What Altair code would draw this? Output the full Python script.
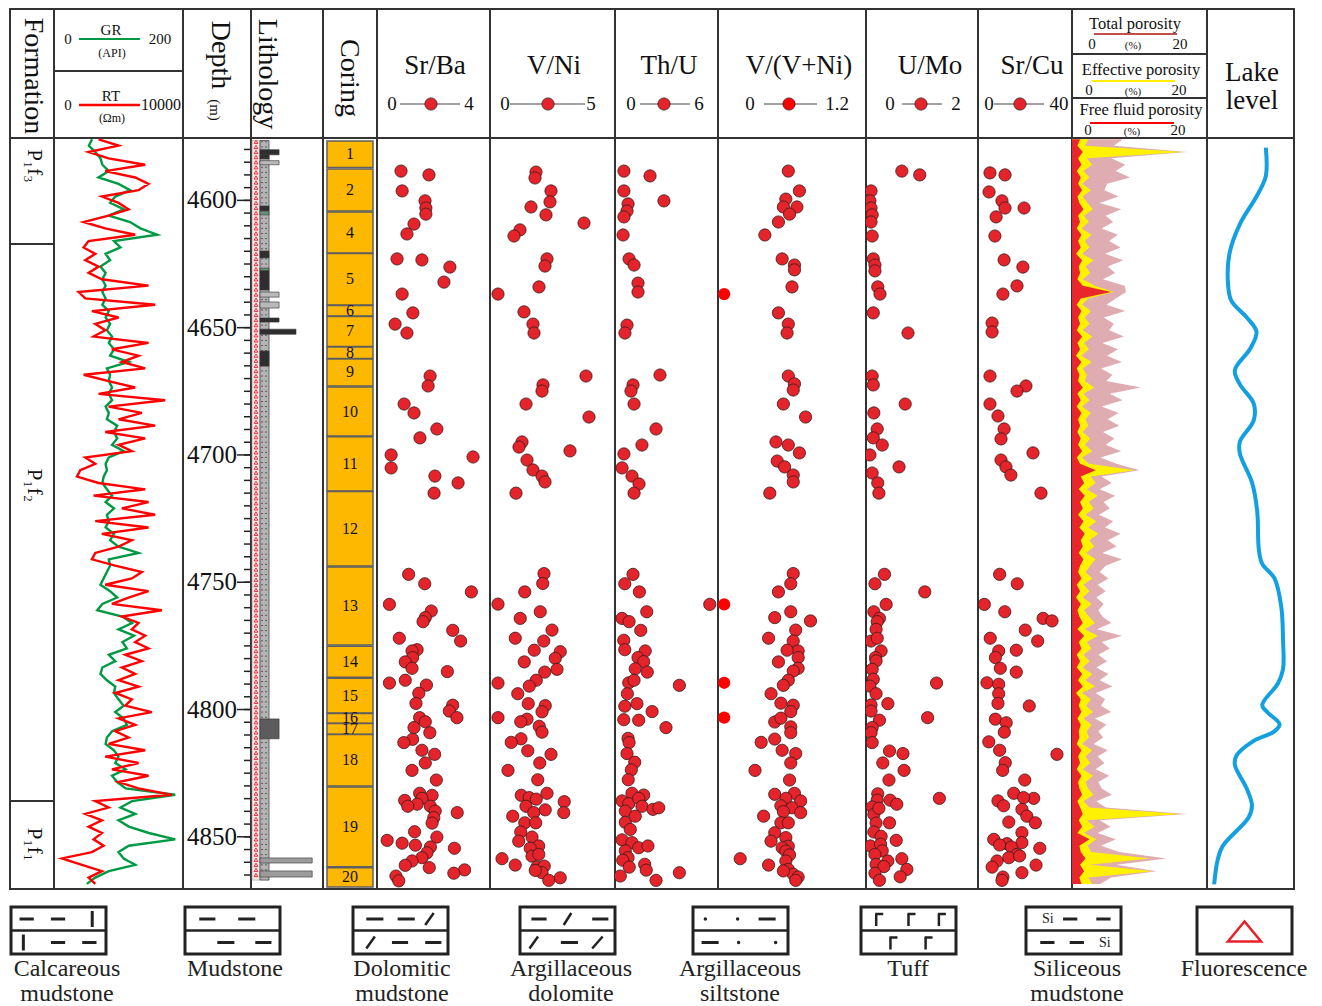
import altair as alt
import pandas as pd

SERIF = "Liberation Serif"
HEAD_H, DATA_H, LEG_H = 129, 751, 118
DEPTH_MIN, DEPTH_MAX = 4575.5, 4870.5
W = {"formation": 44, "logs": 129, "depth": 68, "litho": 72, "coring": 54,
     "srba": 113, "vni": 125, "thu": 103, "vvni": 148, "umo": 112, "srcu": 94,
     "poro": 135, "lake": 87}
PT_FILL, PT_EDGE = "#E4232A", "#3a1a1a"
ONE = pd.DataFrame({"k": [0]})

# ---------------- data ----------------
formation_names = ["P₁f₃", "P₁f₂", "P₁f₁"]
formation_bounds = [4617.1, 4835.9]
formation_label_depth = [4586.5, 4712.0, 4853.0]

log_depth = [4576 + 2.5 * i for i in range(118)]
gr = [59, 54, 64, 72, 75, 85, 69, 100, 118, 95,
      87, 108, 85, 118, 134, 160, 93, 103, 80, 87,
      72, 80, 75, 80, 75, 80, 75, 85, 80, 87,
      82, 90, 85, 93, 87, 116, 82, 87, 85, 90,
      85, 90, 80, 85, 82, 98, 93, 98, 90, 108,
      85, 80, 82, 77, 75, 82, 90, 80, 93, 82,
      85, 80, 93, 87, 100, 131, 85, 87, 82, 77,
      72, 87, 98, 75, 67, 106, 121, 100, 124, 106,
      113, 85, 95, 75, 72, 82, 95, 93, 100, 108,
      95, 108, 113, 90, 82, 80, 93, 100, 95, 111,
      90, 98, 111, 188, 121, 103, 126, 100, 116, 147,
      188, 116, 100, 108, 126, 85, 64, 51]
rt = [3457, 5005, 2683, 4231, 7069, 3973, 6295, 7327, 6553, 3715,
      5005, 5779, 4231, 2296, 3973, 6295, 2683, 2296, 3199, 2425,
      3457, 2683, 3715, 7327, 1909, 2425, 7843, 2941, 5005, 3199,
      3973, 3070, 7327, 4489, 6553, 5263, 7069, 2296, 4231, 6295,
      3457, 8617, 4231, 6811, 5005, 7843, 3973, 7069, 5005, 6037,
      2425, 3199, 2038, 1780, 3457, 7069, 3070, 7327, 5263, 7843,
      3199, 7327, 3715, 6037, 5005, 3199, 2941, 4747, 6811, 6037,
      3973, 7327, 5779, 4489, 8359, 5263, 6553, 6037, 7069, 6295,
      7327, 5521, 6811, 5263, 6295, 5005, 6553, 4747, 6037, 5521,
      7585, 5005, 6295, 4747, 5779, 4231, 7069, 3973, 6553, 4489,
      7327, 5005, 6553, 9133, 3199, 4231, 2425, 3715, 2683, 3715,
      3070, 3844, 2941, 619, 2167, 3715, 2683, 3199]

depth_ticks = list(range(4580, 4866, 5))
depth_major = [4600, 4650, 4700, 4750, 4800, 4850]

litho_top = [4580.1, 4582.1, 4584.4, 4602.2, 4604.2, 4619.9, 4626.6, 4627.7, 4636.0,
             4639.9, 4646.2, 4650.6, 4659.2, 4803.7, 4858.3, 4863.4]
litho_bottom = [4582.1, 4583.7, 4586.0, 4604.1, 4605.7, 4622.6, 4627.7, 4635.2, 4638.0,
                4642.3, 4647.8, 4652.6, 4665.1, 4811.5, 4860.3, 4865.8]
litho_kind = ["dark", "dark", "light", "dark", "green", "dark", "green", "dark", "light",
              "light", "dark", "dark", "dark", "mid", "pattern", "pattern"]
litho_extent = [0.39, 0.25, 0.39, 0.25, 0.25, 0.25, 0.25, 0.25, 0.39,
                0.39, 0.39, 0.625, 0.25, 0.39, 0.85, 0.85]
fluorescence_depth = [4577 + 2 * i for i in range(145)]

coring_no = ["1", "2", "4", "5", "6", "7", "8", "9", "10", "11", "12", "13", "14", "15",
             "16", "17", "18", "19", "20"]
coring_top = [4576.7, 4587.7, 4604.6, 4620.9, 4641.3, 4645.6, 4657.6, 4662.3, 4673.3, 4692.9,
              4714.4, 4744.0, 4775.1, 4787.7, 4801.6, 4805.5, 4809.8, 4830.4, 4862.2]
coring_bottom = [4587.1, 4604.2, 4620.7, 4641.1, 4645.4, 4657.4, 4662.1, 4672.9, 4692.6, 4714.2,
                 4743.6, 4774.7, 4787.3, 4801.4, 4805.4, 4809.7, 4830.0, 4861.8, 4869.7]

srba_depth = [4588.5, 4590.0, 4596.3, 4600.2, 4603.0, 4605.4, 4609.3, 4613.2, 4623.0, 4623.4,
              4626.2, 4632.1, 4636.8, 4644.2, 4648.6, 4652.1, 4669.0, 4672.9, 4680.0, 4683.5,
              4689.8, 4693.3, 4700.0, 4700.8, 4705.1, 4708.3, 4711.0, 4715.0,
              4746.9, 4750.6, 4753.8, 4758.7, 4761.3, 4763.9, 4765.5, 4768.9, 4772.0, 4773.1,
              4776.5, 4777.0, 4779.6, 4781.3, 4783.8, 4785.1, 4788.5, 4789.6, 4790.4, 4793.6,
              4797.6, 4798.3, 4800.6, 4803.2, 4803.2, 4804.8, 4807.1, 4809.1, 4811.7, 4813.0,
              4816.0, 4817.6, 4821.0, 4823.9, 4827.7, 4832.9, 4833.7, 4834.9, 4835.7, 4837.2,
              4838.0, 4838.0, 4839.9, 4840.5, 4842.5, 4844.6, 4848.0, 4850.1, 4851.4, 4852.5,
              4853.3, 4854.0, 4854.5, 4856.3, 4858.2, 4859.5, 4861.2, 4862.1, 4863.0, 4864.3,
              4865.4, 4867.3]
srba_value = [0.85, 1.84, 0.89, 1.70, 1.73, 1.73, 1.31, 1.06, 0.71, 1.59,
              2.58, 2.37, 0.89, 1.27, 0.64, 1.06, 1.88, 1.81, 0.96, 1.31,
              2.12, 1.52, 0.50, 3.40, 0.50, 2.05, 2.87, 2.02,
              1.12, 1.69, 3.34, 0.44, 1.92, 1.71, 1.63, 2.68, 0.79, 2.96,
              1.42, 1.24, 1.26, 1.00, 1.24, 2.49, 1.00, 0.44, 1.75, 1.48,
              1.38, 2.68, 2.56, 2.83, 1.51, 1.71, 1.31, 1.87, 1.26, 0.95,
              1.59, 2.04, 1.71, 1.24, 2.10, 1.51, 1.95, 1.59, 0.98, 1.42,
              1.09, 1.89, 2.06, 2.84, 2.01, 1.95, 1.33, 2.12, 0.36, 0.89,
              1.36, 1.89, 2.74, 1.77, 1.59, 1.24, 1.00, 1.85, 3.10, 2.72,
              0.67, 0.77]

vni_depth = [4588.9, 4591.2, 4596.3, 4602.6, 4600.6, 4605.7, 4608.9, 4611.6, 4614.0, 4623.0,
             4625.8, 4634.0, 4636.8, 4643.8, 4648.6, 4652.1, 4669.0, 4672.5, 4674.9, 4680.0,
             4685.1, 4694.9, 4698.4, 4696.9, 4702.0, 4705.9, 4708.3, 4710.6, 4715.0,
             4746.6, 4750.5, 4753.8, 4758.6, 4761.6, 4764.2, 4768.8, 4772.0, 4773.1, 4776.7,
             4777.3, 4779.9, 4781.3, 4785.3, 4784.2, 4788.5, 4790.8, 4789.6, 4793.8, 4797.7,
             4798.5, 4800.9, 4803.2, 4803.8, 4804.8, 4806.6, 4808.9, 4811.5, 4812.9, 4816.2,
             4817.6, 4821.0, 4823.9, 4827.6, 4833.7, 4834.6, 4835.2, 4832.9, 4836.2, 4838.0,
             4839.4, 4840.5, 4840.5, 4841.9, 4844.5, 4844.5, 4848.1, 4851.7, 4850.1, 4853.6,
             4854.5, 4858.6, 4857.6, 4856.9, 4861.1, 4861.9, 4861.5, 4864.1, 4866.1, 4867.1,
             4863.2]
vni_value = [1.84, 1.80, 2.44, 1.64, 2.40, 2.24, 3.76, 1.20, 0.96, 2.28,
             2.20, 1.96, 0.32, 1.36, 1.72, 1.76, 3.84, 2.12, 2.08, 1.44,
             3.96, 1.28, 3.20, 1.16, 1.48, 1.72, 2.08, 2.20, 1.04,
             2.16, 2.11, 1.39, 0.32, 2.01, 1.21, 2.48, 1.01, 2.15, 1.77,
             2.81, 2.61, 1.37, 2.19, 2.68, 1.85, 1.57, 0.32, 1.11, 1.53,
             2.21, 2.08, 0.32, 1.48, 1.23, 1.97, 2.08, 1.24, 0.85, 1.51,
             2.44, 1.99, 0.72, 1.91, 1.25, 1.57, 1.85, 2.28, 2.97, 1.44,
             2.21, 2.95, 1.75, 0.91, 1.39, 1.83, 1.23, 1.15, 1.68, 1.95,
             1.61, 0.48, 1.68, 1.95, 1.01, 1.88, 2.17, 2.08, 2.81, 2.35,
             1.81]

thu_depth = [4588.5, 4590.4, 4596.3, 4600.2, 4601.4, 4604.2, 4606.5, 4613.6, 4623.0, 4625.4,
             4632.5, 4636.0, 4649.0, 4652.1, 4668.6, 4672.5, 4674.9, 4680.0, 4689.8, 4696.1,
             4699.6, 4705.1, 4708.3, 4711.4, 4715.0,
             4746.9, 4750.6, 4753.8, 4758.7, 4761.6, 4764.2, 4765.5, 4768.9, 4772.8, 4776.5,
             4777.0, 4779.6, 4781.2, 4784.0, 4785.3, 4789.5, 4788.5, 4790.5, 4793.8, 4798.7,
             4797.7, 4800.8, 4804.0, 4804.2, 4807.1, 4811.3, 4813.0, 4817.3, 4820.7, 4823.7,
             4827.6, 4832.9, 4833.6, 4835.9, 4837.0, 4834.9, 4838.0, 4839.2, 4838.6, 4839.9,
             4844.3, 4847.1, 4841.9, 4851.2, 4852.3, 4854.3, 4853.6, 4855.5, 4858.2, 4859.2,
             4861.9, 4860.8, 4863.1, 4864.1, 4865.4, 4867.1]
thu_value = [0.52, 2.04, 0.52, 2.85, 0.76, 0.70, 0.52, 0.47, 0.82, 1.11,
             1.34, 1.34, 0.70, 0.58, 2.62, 1.05, 0.93, 1.11, 2.39, 1.57,
             0.52, 0.41, 0.99, 1.40, 1.11,
             1.05, 0.57, 1.42, 5.52, 1.85, 0.41, 0.82, 1.50, 0.51, 0.57,
             1.76, 1.34, 1.67, 1.18, 1.88, 0.80, 1.11, 3.75, 0.72, 0.57,
             1.28, 2.16, 0.51, 1.38, 2.97, 0.76, 0.82, 0.70, 1.15, 0.95,
             0.77, 0.99, 1.67, 0.41, 0.80, 1.38, 1.57, 2.21, 2.55, 0.60,
             0.60, 0.89, 1.18, 0.41, 0.99, 1.38, 1.92, 0.60, 0.76, 0.45,
             0.83, 1.73, 1.82, 3.75, 0.31, 2.39]

vvni_depth = [4588.5, 4596.3, 4599.5, 4602.6, 4602.6, 4605.4, 4608.5, 4613.6, 4623.0, 4625.4,
              4627.3, 4634.0, 4644.2, 4648.6, 4652.1, 4669.0, 4672.1, 4674.5, 4680.0, 4685.1,
              4694.9, 4696.1, 4699.2, 4702.4, 4704.7, 4707.9, 4710.6, 4715.0,
              4746.6, 4750.6, 4753.8, 4763.9, 4761.6, 4765.2, 4768.8, 4772.0, 4773.1, 4777.0,
              4776.7, 4779.6, 4781.3, 4783.8, 4784.9, 4788.5, 4790.5, 4793.8, 4797.5, 4798.3,
              4800.8, 4804.9, 4803.4, 4806.8, 4809.1, 4811.6, 4812.9, 4816.0, 4817.3, 4821.0,
              4823.9, 4827.7, 4833.3, 4832.9, 4834.9, 4835.9, 4837.8, 4838.6, 4841.9, 4840.1,
              4840.5, 4844.5, 4844.5, 4848.4, 4851.7, 4850.3, 4853.7, 4854.3, 4855.6, 4857.1,
              4858.6, 4861.1, 4859.5, 4862.8, 4864.7, 4865.8, 4867.1, 4863.4]
vvni_value = [0.57, 0.66, 0.55, 0.53, 0.64, 0.58, 0.49, 0.38, 0.52, 0.62,
              0.62, 0.60, 0.49, 0.57, 0.56, 0.57, 0.62, 0.61, 0.53, 0.71,
              0.47, 0.57, 0.66, 0.48, 0.54, 0.61, 0.61, 0.42,
              0.61, 0.59, 0.49, 0.46, 0.59, 0.75, 0.63, 0.41, 0.61, 0.65,
              0.56, 0.65, 0.49, 0.65, 0.61, 0.57, 0.53, 0.43, 0.51, 0.61,
              0.59, 0.46, 0.51, 0.59, 0.59, 0.46, 0.35, 0.52, 0.63, 0.59,
              0.30, 0.58, 0.46, 0.62, 0.55, 0.67, 0.51, 0.60, 0.37, 0.53,
              0.67, 0.51, 0.57, 0.46, 0.43, 0.55, 0.57, 0.52, 0.55, 0.58,
              0.18, 0.41, 0.55, 0.57, 0.61, 0.65, 0.63, 0.53]
vvni_edge_depth = [4636.8, 4758.7, 4789.5, 4803.2]
vvni_edge_value = [0.05, 0.05, 0.05, 0.05]

umo_depth = [4588.5, 4590.0, 4596.3, 4600.2, 4603.0, 4605.7, 4608.5, 4614.0, 4623.0, 4625.4,
             4627.7, 4634.0, 4636.8, 4644.2, 4652.1, 4669.0, 4672.5, 4680.0, 4683.5, 4689.8,
             4693.3, 4696.1, 4700.0, 4704.7, 4707.1, 4711.0, 4715.0,
             4746.9, 4750.6, 4753.8, 4758.7, 4761.6, 4764.2, 4765.5, 4768.5, 4773.1, 4772.0,
             4777.0, 4779.6, 4780.9, 4784.2, 4788.1, 4790.8, 4793.8, 4789.6, 4797.7, 4798.2,
             4800.6, 4804.2, 4803.2, 4807.1, 4809.1, 4813.0, 4816.3, 4817.3, 4821.0, 4823.9,
             4827.7, 4833.1, 4835.6, 4835.6, 4837.2, 4838.3, 4841.2, 4844.6, 4844.5, 4834.9,
             4838.8, 4848.1, 4849.8, 4851.4, 4853.6, 4852.9, 4855.5, 4856.9, 4858.6, 4859.5,
             4860.8, 4861.7, 4862.8, 4864.3, 4865.7, 4867.1]
umo_value = [0.64, 0.96, 0.09, 0.07, 0.09, 0.11, 0.09, 0.11, 0.13, 0.16,
             0.16, 0.21, 0.25, 0.13, 0.75, 0.11, 0.13, 0.70, 0.14, 0.20,
             0.13, 0.29, 0.07, 0.59, 0.11, 0.21, 0.23,
             0.33, 0.16, 1.05, 0.36, 0.14, 0.24, 0.20, 0.18, 0.09, 0.20,
             0.27, 0.17, 0.18, 0.11, 0.13, 0.07, 0.18, 1.26, 0.39, 0.09,
             0.09, 0.24, 1.10, 0.11, 0.09, 0.11, 0.42, 0.66, 0.30, 0.68,
             0.41, 0.21, 0.20, 0.43, 0.55, 0.11, 0.14, 0.18, 0.42, 1.31,
             0.23, 0.14, 0.27, 0.54, 0.08, 0.26, 0.29, 0.16, 0.64, 0.39,
             0.18, 0.32, 0.73, 0.16, 0.61, 0.24]

srcu_depth = [4589.2, 4590.0, 4596.7, 4600.2, 4603.0, 4603.0, 4606.5, 4614.0, 4623.4, 4626.2,
              4633.6, 4636.8, 4648.2, 4651.7, 4669.0, 4672.9, 4674.9, 4680.0, 4684.7, 4689.8,
              4693.7, 4699.2, 4702.0, 4704.7, 4707.9, 4715.0,
              4746.9, 4750.6, 4758.7, 4761.6, 4764.2, 4765.2, 4768.8, 4772.0, 4773.1, 4777.0,
              4776.7, 4779.6, 4783.8, 4785.3, 4789.5, 4790.1, 4793.8, 4797.6, 4798.6, 4803.8,
              4805.2, 4808.9, 4812.7, 4817.6, 4816.0, 4820.9, 4823.9, 4827.7, 4832.9, 4835.9,
              4837.8, 4834.9, 4834.6, 4839.2, 4844.2, 4841.9, 4844.5, 4848.4, 4851.0, 4852.7,
              4852.3, 4853.2, 4854.0, 4854.5, 4856.9, 4858.2, 4857.5, 4859.5, 4861.9, 4861.1,
              4864.1, 4865.8, 4867.1]
srcu_value = [5.1, 11.5, 4.7, 10.2, 11.5, 19.6, 7.7, 7.2, 11.1, 19.1,
              16.6, 10.6, 6.0, 6.0, 5.1, 20.4, 16.6, 5.1, 8.5, 11.1,
              9.8, 23.4, 9.8, 11.9, 14.0, 26.8,
              9.2, 16.7, 2.7, 11.4, 27.7, 31.5, 20.1, 5.2, 25.4, 8.8,
              16.3, 7.4, 9.5, 16.3, 3.8, 8.8, 8.8, 8.5, 21.8, 7.4,
              12.0, 11.2, 4.6, 33.6, 9.2, 11.6, 10.5, 19.9, 15.2, 8.5,
              10.9, 23.7, 19.4, 18.7, 13.1, 20.8, 24.4, 18.7, 6.7, 12.3,
              18.7, 9.2, 14.2, 26.3, 16.6, 13.1, 17.7, 8.1, 6.0, 24.7,
              18.7, 10.6, 10.2]

total_porosity = [7.5, 6.2, 17.0, 5.8, 7.9, 6.5, 8.6, 5.2,
                  4.8, 6.9, 4.1, 7.3, 5.0, 6.1, 4.4, 6.8,
                  5.5, 7.2, 4.9, 7.6, 5.3, 6.4, 4.6,
                  7.8, 8.0, 6.5, 5.1, 7.9, 4.7, 6.2, 5.5,
                  7.7, 4.5, 6.8, 5.2, 7.4, 4.3, 6.0,
                  5.1, 10.2, 5.6, 7.5, 4.4, 6.9, 5.3, 7.0,
                  4.6, 6.3, 5.0, 7.3, 4.2, 6.6, 10.0,
                  4.4, 5.9, 4.1, 6.4, 4.7, 5.6, 4.0, 6.1,
                  4.9, 7.2, 5.3, 6.6, 4.5, 7.4, 5.0,
                  4.1, 5.4, 3.8, 5.0, 3.6, 4.7, 3.9, 4.5,
                  5.8, 3.7, 7.4, 4.4, 5.6, 3.9, 5.2,
                  3.6, 5.4, 4.1, 6.0, 3.5, 4.9, 4.3, 5.8,
                  3.4, 5.1, 3.9, 4.6, 3.2, 5.3, 3.8,
                  4.8, 3.5, 5.5, 3.9, 4.4, 5.9, 3.6, 5.0,
                  17.0, 4.1, 5.7, 3.8, 6.5, 4.3, 7.0,
                  14.0, 6.6, 12.5, 5.8, 4.2]
effective_porosity = [2.4, 1.9, 16.5, 2.2, 3.0, 1.7, 2.6, 1.5,
                      2.8, 1.6, 2.3, 3.1, 1.8, 2.5, 1.4, 2.9,
                      1.9, 2.6, 1.5, 3.2, 2.0, 2.7, 1.6,
                      3.4, 6.2, 2.4, 1.5, 2.8, 1.9, 2.6, 1.6,
                      3.0, 1.8, 2.5, 1.4, 2.9, 1.6, 2.2,
                      1.9, 3.3, 1.7, 2.6, 1.5, 2.8, 2.0, 2.4,
                      1.6, 2.7, 1.9, 3.0, 1.5, 2.5, 9.2,
                      2.8, 3.5, 2.2, 3.8, 2.5, 3.2, 2.0, 3.6,
                      2.4, 3.9, 2.6, 3.3, 2.1, 3.5, 2.7,
                      2.0, 3.0, 1.7, 2.6, 1.6, 2.9, 1.8, 2.5,
                      3.4, 1.9, 3.8, 2.2, 2.9, 1.7, 2.6,
                      1.6, 3.0, 2.0, 3.4, 1.5, 2.8, 2.1, 3.1,
                      1.7, 2.9, 2.2, 2.5, 1.5, 3.0, 2.0,
                      2.7, 1.6, 3.1, 2.0, 2.4, 3.2, 1.7, 2.6,
                      16.0, 2.2, 3.3, 1.8, 3.6, 2.3, 2.9,
                      11.5, 2.6, 12.0, 2.4, 3.0]
free_fluid_porosity = [1.2, 0.8, 1.6, 0.9, 1.4, 0.7, 1.3, 0.9,
                       1.5, 0.8, 1.1, 1.7, 0.9, 1.2, 0.7, 1.4,
                       0.9, 1.3, 0.6, 1.5, 1.0, 1.2, 0.8,
                       1.6, 5.8, 1.3, 0.7, 1.4, 0.9, 1.2, 0.7,
                       1.5, 0.8, 1.2, 0.6, 1.4, 0.7, 1.1,
                       0.9, 1.6, 0.8, 1.3, 0.7, 1.4, 0.9, 1.2,
                       0.8, 1.3, 0.9, 1.5, 0.7, 1.2, 3.5,
                       1.3, 1.8, 1.0, 1.9, 1.2, 1.6, 0.9, 1.7,
                       1.1, 1.9, 1.3, 1.6, 1.0, 1.7, 1.2,
                       0.9, 1.4, 0.7, 1.2, 0.6, 1.3, 0.8, 1.1,
                       1.6, 0.8, 1.8, 1.0, 1.4, 0.7, 1.2,
                       0.7, 1.5, 0.9, 1.6, 0.6, 1.3, 1.0, 1.4,
                       0.8, 1.3, 1.0, 1.1, 0.7, 1.4, 0.9,
                       1.2, 0.7, 1.4, 0.9, 1.1, 1.5, 0.8, 1.2,
                       1.6, 1.0, 1.5, 0.8, 2.6, 1.1, 1.3,
                       2.0, 1.2, 1.8, 1.1, 1.4]

lake_depth = [4579.3, 4590.5, 4598.0, 4609.3, 4620.6, 4631.9, 4639.4, 4646.0, 4651.6, 4658.2,
              4666.7, 4672.3, 4679.8, 4686.4, 4694.8, 4699.5, 4710.8, 4722.1, 4737.1, 4742.8,
              4748.4, 4759.7, 4772.8, 4784.1, 4789.8, 4798.2, 4801.1, 4805.8, 4808.6, 4812.3,
              4818.1, 4821.7, 4831.1, 4837.7, 4842.4, 4853.6, 4859.3, 4868.7]
lake_level = [0.676, 0.676, 0.577, 0.378, 0.260, 0.240, 0.279, 0.457, 0.569, 0.498,
              0.320, 0.378, 0.537, 0.537, 0.378, 0.378, 0.517, 0.577, 0.596, 0.635,
              0.775, 0.854, 0.874, 0.874, 0.815, 0.635, 0.695, 0.834, 0.775, 0.537,
              0.339, 0.320, 0.457, 0.517, 0.478, 0.181, 0.121, 0.082]

legend_line1 = ["Calcareous", "Mudstone", "Dolomitic", "Argillaceous", "Argillaceous",
                "Tuff", "Siliceous", "Fluorescence"]
legend_line2 = ["mudstone", "", "mudstone", "dolomite", "siltstone", "", "mudstone", ""]


# ---------------- helpers ----------------
def ysc():
    return alt.Scale(domain=[DEPTH_MIN, DEPTH_MAX], reverse=True, nice=False, zero=False)


def Yd(field="depth"):
    return alt.Y(f"{field}:Q", scale=ysc(), axis=None)


def T(text, x, y, size, angle=0, color="#111111", align="center", baseline="middle"):
    return alt.Chart(ONE).mark_text(text=text, font=SERIF, fontSize=size, angle=angle,
                                    color=color, align=align, baseline=baseline).encode(
        x=alt.value(x), y=alt.value(y))


def R(x1, y1, x2, y2, color="#333333", w=1.0):
    return alt.Chart(ONE).mark_rule(color=color, strokeWidth=w).encode(
        x=alt.value(x1), y=alt.value(y1), x2=alt.value(x2), y2=alt.value(y2))


def DOT(x, y, fill, stroke):
    return alt.Chart(ONE).mark_point(shape="circle", filled=True, size=150, fill=fill,
                                     stroke=stroke, strokeWidth=0.8, opacity=1).encode(
        x=alt.value(x), y=alt.value(y))


def panel(layers, w, h):
    return alt.layer(*layers).properties(width=w, height=h)


# ---------------- header row ----------------
def head_ratio(title, w, tx, zx, l1, l2, cx, mx, mlabel, fill=PT_FILL):
    return panel([T(title, tx, 57, 27), T("0", zx, 95, 19), R(l1, 95, l2, 95, "#444444", 1),
                  DOT(cx, 95, fill, PT_EDGE), T(mlabel, mx, 95, 19)], w, HEAD_H)


h_form = panel([T("Formation", 23, 67, 28, angle=90)], W["formation"], HEAD_H)
h_logs = panel([
    R(0, 62, 129, 62, "#333333", 2),
    T("GR", 57, 21, 15), R(25, 30, 86, 30, "#009944", 2), T("0", 14, 30, 15),
    T("200", 106, 30, 15), T("(API)", 58, 44, 12),
    T("RT", 57, 87, 15), R(25, 96, 86, 96, "#FF0000", 2.5), T("0", 14, 96, 15),
    T("10000", 107, 96, 16), T("(Ωm)", 58, 109, 12),
], W["logs"], HEAD_H)
h_depth = panel([T("Depth", 37, 46, 28, angle=90), T("(m)", 32, 101, 15, angle=90)],
                W["depth"], HEAD_H)
h_litho = panel([T("Lithology", 16, 65, 28, angle=90)], W["litho"], HEAD_H)
h_coring = panel([T("Coring", 26, 69, 28, angle=90)], W["coring"], HEAD_H)
h_srba = head_ratio("Sr/Ba", W["srba"], 58, 15, 23, 83, 54, 92, "4")
h_vni = head_ratio("V/Ni", W["vni"], 64, 15, 20, 95, 58, 101, "5")
h_thu = head_ratio("Th/U", W["thu"], 54, 16, 25, 75, 49, 84, "6")
h_vvni = head_ratio("V/(V+Ni)", W["vvni"], 81, 32, 46, 99, 71, 119, "1.2", fill="#FF0000")
h_umo = head_ratio("U/Mo", W["umo"], 64, 24, 36, 76, 55, 90, "2")
h_srcu = head_ratio("Sr/Cu", W["srcu"], 54, 11, 16, 66, 42, 81, "40")
h_poro = panel([
    R(0, 45, 135, 45, "#333333", 2), R(0, 89, 135, 89, "#333333", 2),
    T("Total porosity", 63, 15, 16.5), R(22, 25, 105, 25, "#C0504D", 2),
    T("0", 20, 35, 15), T("(%)", 61, 37, 11), T("20", 108, 35, 15),
    T("Effective porosity", 69, 61, 16.5), R(20, 72, 103, 72, "#FFEE00", 2),
    T("0", 17, 81, 15), T("(%)", 61, 83, 11), T("20", 107, 81, 15),
    T("Free fluid porosity", 69, 101, 16.5), R(18, 114, 102, 114, "#FF0000", 2),
    T("0", 16, 121, 15), T("(%)", 60, 123, 11), T("20", 106, 121, 15),
], W["poro"], HEAD_H)
h_lake = panel([T("Lake", 45, 64, 27), T("level", 45, 92, 27)], W["lake"], HEAD_H)

heads = [h_form, h_logs, h_depth, h_litho, h_coring, h_srba, h_vni, h_thu,
         h_vvni, h_umo, h_srcu, h_poro, h_lake]

# ---------------- data row ----------------
form_df = pd.DataFrame({"name": formation_names, "label_depth": formation_label_depth})
bound_df = pd.DataFrame({"depth": formation_bounds})
d_form = panel([
    alt.Chart(bound_df).mark_rule(color="#333333", strokeWidth=2).encode(
        y=Yd(), x=alt.value(0), x2=alt.value(W["formation"])),
    alt.Chart(form_df).mark_text(font=SERIF, fontSize=21, angle=90, color="#111111").encode(
        y=Yd("label_depth"), x=alt.value(24), text="name:N"),
], W["formation"], DATA_H)

log_df = pd.DataFrame({"depth": log_depth, "GR": gr, "RT": rt})
gr_line = alt.Chart(log_df).mark_line(color="#009944", strokeWidth=2.4).encode(
    x=alt.X("GR:Q", scale=alt.Scale(domain=[0, 200], nice=False), axis=None),
    y=Yd(), order="depth:Q")
rt_line = alt.Chart(log_df).mark_line(color="#FF0000", strokeWidth=2.4).encode(
    x=alt.X("RT:Q", scale=alt.Scale(domain=[0, 10000], nice=False), axis=None),
    y=Yd(), order="depth:Q")
d_logs = alt.layer(gr_line, rt_line).resolve_scale(x="independent").properties(
    width=W["logs"], height=DATA_H)

tick_df = pd.DataFrame({"depth": depth_ticks})
major_df = pd.DataFrame({"depth": depth_major, "label": [str(d) for d in depth_major]})
d_depth = panel([
    alt.Chart(tick_df).mark_rule(color="#222222", strokeWidth=1.5).encode(
        y=Yd(), x=alt.value(61), x2=alt.value(68)),
    alt.Chart(major_df).mark_rule(color="#222222", strokeWidth=1.5).encode(
        y=Yd(), x=alt.value(54), x2=alt.value(68)),
    alt.Chart(major_df).mark_text(font=SERIF, fontSize=25, align="right", baseline="middle",
                                  color="#111111").encode(
        y=Yd(), x=alt.value(54), text="label:N"),
], W["depth"], DATA_H)

col_df = pd.DataFrame({"top": [4576.5], "bottom": [4867.0]})
flu_df = pd.DataFrame({"depth": fluorescence_depth})
litho_df = pd.DataFrame({"top": litho_top, "bottom": litho_bottom, "kind": litho_kind,
                         "extent": litho_extent})
xl = alt.Scale(domain=[0, 1], nice=False)
d_litho = panel([
    alt.Chart(col_df).mark_rect(fill="#FCE4E4", stroke="#888888", strokeWidth=0.5).encode(
        y=Yd("top"), y2="bottom:Q", x=alt.value(1), x2=alt.value(9)),
    alt.Chart(flu_df).mark_point(shape="triangle-up", size=14, filled=False, color="#E8202A",
                                 strokeWidth=0.9, opacity=1).encode(y=Yd(), x=alt.value(5)),
    alt.Chart(col_df).mark_rect(fill="#B4B4B4", stroke="#444444", strokeWidth=0.8).encode(
        y=Yd("top"), y2="bottom:Q", x=alt.value(9), x2=alt.value(18)),
    alt.Chart(flu_df).mark_rule(color="#5a5a5a", strokeWidth=1, strokeDash=[2, 2]).encode(
        y=Yd(), x=alt.value(10), x2=alt.value(17)),
    alt.Chart(litho_df).transform_calculate(start="0.125").mark_rect(
        stroke="#333333", strokeWidth=0.6).encode(
        y=Yd("top"), y2="bottom:Q",
        x=alt.X("start:Q", scale=xl, axis=None), x2="extent:Q",
        color=alt.Color("kind:N", scale=alt.Scale(
            domain=["dark", "green", "light", "mid", "pattern"],
            range=["#2e2e2e", "#6b9277", "#b9b9b9", "#5c5c5c", "#9c9c9c"]), legend=None)),
], W["litho"], DATA_H)

cor_df = pd.DataFrame({"no": coring_no, "top": coring_top, "bottom": coring_bottom})
d_coring = panel([
    alt.Chart(cor_df).mark_rect(fill="#FFB800", stroke="#5f5f5f", strokeWidth=1.5).encode(
        y=Yd("top"), y2="bottom:Q", x=alt.value(4), x2=alt.value(50)),
    alt.Chart(cor_df).transform_calculate(mid="(datum.top + datum.bottom) / 2").mark_text(
        font=SERIF, fontSize=16, color="#111111").encode(
        y=Yd("mid"), x=alt.value(27), text="no:N"),
], W["coring"], DATA_H)


def scatter(depths, values, vmax, w, edge=None):
    df = pd.DataFrame(list(zip(depths, values)), columns=["depth", "value"])
    xs = alt.Scale(domain=[0, vmax], nice=False, zero=True)
    layers = [alt.Chart(df).mark_point(shape="circle", filled=True, size=150, fill=PT_FILL,
                                       stroke=PT_EDGE, strokeWidth=0.8, opacity=1,
                                       clip=True).encode(
        x=alt.X("value:Q", scale=xs, axis=None), y=Yd())]
    if edge is not None:
        edf = pd.DataFrame(list(zip(edge[0], edge[1])), columns=["depth", "value"])
        layers.append(alt.Chart(edf).mark_point(shape="circle", filled=True, size=150,
                                                fill="#FF0000", strokeWidth=0, opacity=1,
                                                clip=True).encode(
            x=alt.X("value:Q", scale=xs, axis=None), y=Yd()))
    return panel(layers, w, DATA_H)


d_srba = scatter(srba_depth, srba_value, 4, W["srba"])
d_vni = scatter(vni_depth, vni_value, 5, W["vni"])
d_thu = scatter(thu_depth, thu_value, 6, W["thu"])
d_vvni = scatter(vvni_depth, vvni_value, 1.2, W["vvni"], edge=(vvni_edge_depth, vvni_edge_value))
d_umo = scatter(umo_depth, umo_value, 2, W["umo"])
d_srcu = scatter(srcu_depth, srcu_value, 40, W["srcu"])

poro_df = pd.DataFrame({"depth": log_depth, "total": total_porosity,
                        "effective": effective_porosity, "free": free_fluid_porosity})
ps = alt.Scale(domain=[0, 20], nice=False, zero=True)


def poro_area(field, color, op):
    return alt.Chart(poro_df).mark_area(orient="horizontal", color=color, opacity=op,
                                        interpolate="linear").encode(
        x=alt.X(f"{field}:Q", scale=ps, axis=None), y=Yd())


d_poro = panel([poro_area("total", "#DBA3A9", 0.9), poro_area("effective", "#FFF200", 1),
                poro_area("free", "#E8262C", 1)], W["poro"], DATA_H)

lake_df = pd.DataFrame({"depth": lake_depth, "level": lake_level})
d_lake = panel([alt.Chart(lake_df).mark_line(color="#12A0E0", strokeWidth=4,
                                              interpolate="catmull-rom").encode(
    x=alt.X("level:Q", scale=alt.Scale(domain=[0, 1], nice=False), axis=None),
    y=Yd(), order="depth:Q")], W["lake"], DATA_H)

datas = [d_form, d_logs, d_depth, d_litho, d_coring, d_srba, d_vni, d_thu,
         d_vvni, d_umo, d_srcu, d_poro, d_lake]

# ---------------- legend row (drawn from the first grid cell, spanning the width) ----------------
BOX_W, BOX_T, BOX_H = 95, 18, 47
leg_left = [1, 175, 343, 510, 683, 851, 1016, 1187]
leg_center = [57, 225, 392, 561, 730, 898, 1067, 1234]
ROWY = {"t": BOX_T + 12, "b": BOX_T + 35.5}
segs, dots, sis = [], [], []


def dash(L, a, b, r):
    segs.append((L + a * BOX_W, ROWY[r], L + b * BOX_W, ROWY[r], 3))


def vbar(L, a, r):
    segs.append((L + a * BOX_W, ROWY[r] - 8, L + a * BOX_W, ROWY[r] + 8, 3))


def slash(L, a, b, r):
    segs.append((L + a * BOX_W, ROWY[r] + 6, L + b * BOX_W, ROWY[r] - 6, 2.5))


def gamma(L, a, r):
    x = L + a * BOX_W
    segs.append((x, ROWY[r] - 5, x, ROWY[r] + 7, 2.5))
    segs.append((x - 1, ROWY[r] - 5, x + 7, ROWY[r] - 5, 2.5))


L = leg_left
dash(L[0], .09, .24, "t"); dash(L[0], .42, .57, "t"); vbar(L[0], .855, "t")
vbar(L[0], .13, "b"); dash(L[0], .42, .57, "b"); dash(L[0], .75, .90, "b")
dash(L[1], .15, .32, "t"); dash(L[1], .56, .74, "t"); dash(L[1], .34, .52, "b"); dash(L[1], .74, .91, "b")
dash(L[2], .14, .32, "t"); dash(L[2], .47, .65, "t"); slash(L[2], .76, .85, "t")
slash(L[2], .14, .23, "b"); dash(L[2], .41, .58, "b"); dash(L[2], .76, .93, "b")
dash(L[3], .12, .28, "t"); slash(L[3], .46, .54, "t"); dash(L[3], .76, .93, "t")
slash(L[3], .10, .19, "b"); dash(L[3], .43, .61, "b"); slash(L[3], .76, .87, "b")
dots += [(L[4] + .13 * BOX_W, ROWY["t"]), (L[4] + .47 * BOX_W, ROWY["t"]),
         (L[4] + .48 * BOX_W, ROWY["b"]), (L[4] + .87 * BOX_W, ROWY["b"])]
dash(L[4], .69, .87, "t"); dash(L[4], .09, .27, "b")
for a in (.16, .50, .82):
    gamma(L[5], a, "t")
for a in (.31, .68):
    gamma(L[5], a, "b")
sis += [(L[6] + .23 * BOX_W, ROWY["t"]), (L[6] + .83 * BOX_W, ROWY["b"])]
dash(L[6], .39, .54, "t"); dash(L[6], .74, .89, "t"); dash(L[6], .15, .30, "b"); dash(L[6], .46, .61, "b")
for i in range(7):
    segs.append((L[i], BOX_T + 23.5, L[i] + BOX_W, BOX_T + 23.5, 2.5))

box_df = pd.DataFrame({"x": leg_left, "x2": [v + BOX_W for v in leg_left],
                       "y": [BOX_T] * 8, "y2": [BOX_T + BOX_H] * 8})
seg_df = pd.DataFrame(segs, columns=["x", "y", "x2", "y2", "w"])
dot_df = pd.DataFrame(dots, columns=["x", "y"])
si_df = pd.DataFrame(sis, columns=["x", "y"])
tri_df = pd.DataFrame({"x": [L[7] + BOX_W / 2], "y": [BOX_T + BOX_H / 2 + 1]})
lab_df = pd.DataFrame({"x": leg_center * 2, "y": [80] * 8 + [105] * 8,
                       "t": legend_line1 + legend_line2})

XN = lambda f: alt.X(f"{f}:Q", scale=None, axis=None)
YN = lambda f: alt.Y(f"{f}:Q", scale=None, axis=None)
legend_panel = alt.layer(
    alt.Chart(box_df).mark_rect(fill="white", stroke="#222222", strokeWidth=3).encode(
        x=XN("x"), x2="x2:Q", y=YN("y"), y2="y2:Q"),
    alt.Chart(seg_df).mark_rule(color="#222222").encode(
        x=XN("x"), x2="x2:Q", y=YN("y"), y2="y2:Q",
        strokeWidth=alt.StrokeWidth("w:Q", scale=None, legend=None)),
    alt.Chart(dot_df).mark_point(shape="circle", filled=True, size=12, color="#222222",
                                 opacity=1).encode(x=XN("x"), y=YN("y")),
    alt.Chart(si_df).mark_text(text="Si", font=SERIF, fontSize=14, color="#222222").encode(
        x=XN("x"), y=YN("y")),
    alt.Chart(tri_df).mark_point(shape="M-1,0.6L0,-0.6L1,0.6Z", size=1100, filled=False,
                                 color="#E8202A", strokeWidth=2.5, opacity=1).encode(
        x=XN("x"), y=YN("y")),
    alt.Chart(lab_df).mark_text(font=SERIF, fontSize=24, color="#222222").encode(
        x=XN("x"), y=YN("y"), text="t:N"),
).properties(width=W["formation"], height=LEG_H, view=alt.ViewBackground(stroke="transparent"))

chart = alt.concat(*heads, *datas, legend_panel, columns=13, spacing=0,
                   bounds="flush").properties(
    padding=0, background="white"
).configure_view(stroke="#333333", strokeWidth=2)

chart.save("out.html", embed_options={"renderer": "svg", "actions": False})
